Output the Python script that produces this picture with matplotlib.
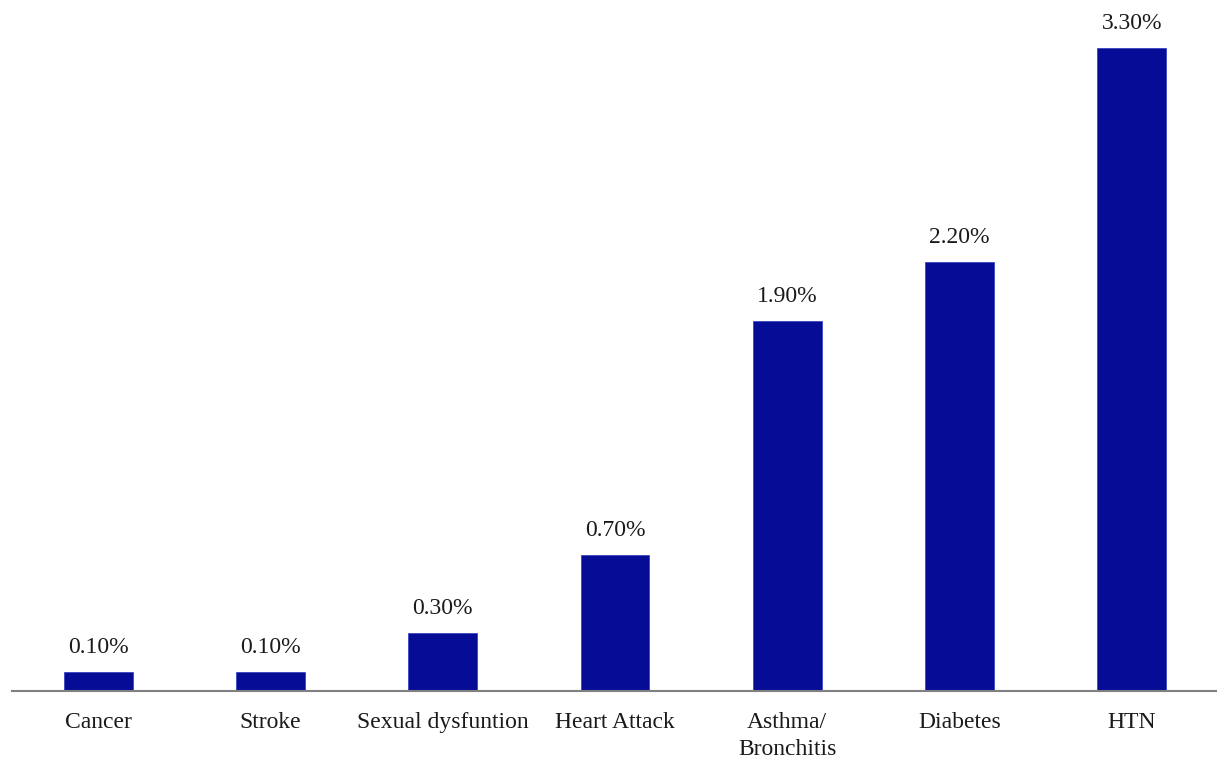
import matplotlib.pyplot as plt

categories = ["Cancer", "Stroke", "Sexual dysfuntion", "Heart Attack",
              "Asthma/\nBronchitis", "Diabetes", "HTN"]
values = [0.1, 0.1, 0.3, 0.7, 1.9, 2.2, 3.3]
value_labels = ["0.10%", "0.10%", "0.30%", "0.70%", "1.90%", "2.20%", "3.30%"]

plt.rcParams["font.family"] = ["Liberation Serif", "DejaVu Serif"]

fig = plt.figure(figsize=(12.17, 7.61), dpi=100)
ax = fig.add_axes([12 / 1217, 70 / 761, 1206 / 1217, 691 / 761])

x = range(len(categories))
bars = ax.bar(x, values, width=0.40, color="#060C96", edgecolor="#3a45c0", linewidth=0.6)

for b, lab in zip(bars, value_labels):
    ax.annotate(lab, (b.get_x() + b.get_width() / 2, b.get_height()),
                xytext=(0, 10), textcoords="offset points",
                ha="center", va="bottom", fontsize=17, color="#1a1a1a")

ax.set_xlim(-0.5, 6.5)
ax.set_ylim(0, 3.544)
ax.set_xticks(list(x))
ax.set_xticklabels(categories, fontsize=17, color="#1a1a1a", linespacing=1.4)
ax.tick_params(axis="x", length=0, pad=15)
ax.set_yticks([])

for side in ["top", "right", "left"]:
    ax.spines[side].set_visible(False)
ax.spines["bottom"].set_color("#808080")
ax.spines["bottom"].set_linewidth(1.5)

fig.savefig("out.png", dpi=100)
